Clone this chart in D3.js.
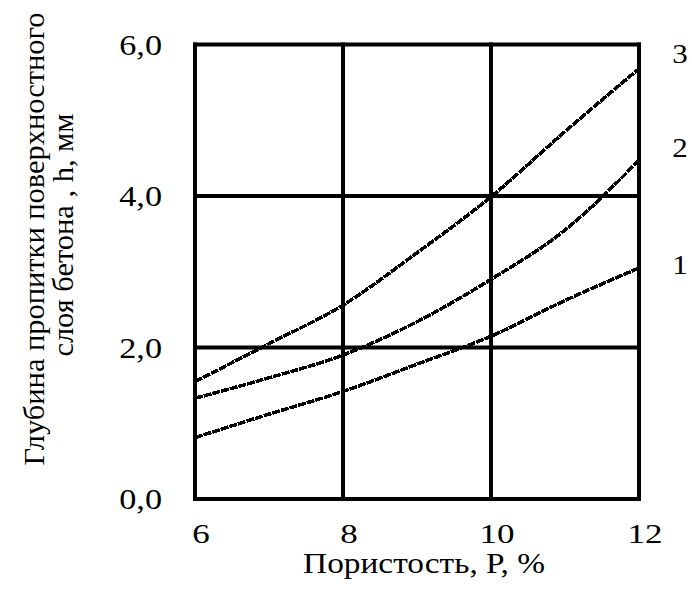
<!DOCTYPE html>
<html>
<head>
<meta charset="utf-8">
<script src="https://cdn.jsdelivr.net/npm/d3@7"></script>
<style>
  html, body { margin: 0; padding: 0; background: #fff; }
  svg text { font-family: "Liberation Serif", "DejaVu Serif", serif; fill: #000; }
</style>
</head>
<body>
<svg id="chart" width="692" height="597"></svg>
<script>
// Data
const porosity = [6, 7, 8, 9, 10, 11, 12];
const curve1 = [0.81, 1.12, 1.42, 1.78, 2.15, 2.62, 3.05];
const curve2 = [1.33, 1.60, 1.90, 2.34, 2.90, 3.55, 4.47];
const curve3 = [1.55, 2.05, 2.56, 3.25, 3.99, 4.85, 5.68];
const seriesNames = ["1", "2", "3"];
const xTicks = [6, 8, 10, 12];
const yTicks = [0, 2, 4, 6];
const xTitle = "Пористость, Р, %";
const yTitle1 = "Глубина пропитки поверхностного";
const yTitle2 = "слоя бетона , h, мм";

const svg = d3.select("#chart");
const margin = { left: 195, right: 53, top: 44.5, bottom: 98 };
const W = 692, H = 597;
const x = d3.scaleLinear().domain([6, 12]).range([margin.left, W - margin.right]);
const y = d3.scaleLinear().domain([0, 6]).range([H - margin.bottom, margin.top]);

const fmt = d => d.toFixed(1).replace(".", ",");

// grid lines
const g = svg.append("g");
g.selectAll("line.vx").data(xTicks).join("line")
  .attr("x1", d => x(d)).attr("x2", d => x(d))
  .attr("y1", y(0) + 2).attr("y2", y(6) - 2)
  .attr("stroke", "#000").attr("stroke-width", 4);
g.selectAll("line.hy").data(yTicks).join("line")
  .attr("x1", x(6) - 2).attr("x2", x(12) + 2)
  .attr("y1", d => y(d)).attr("y2", d => y(d))
  .attr("stroke", "#000").attr("stroke-width", 4);

// tick labels (stretched horizontally like the original)
svg.append("g").selectAll("text").data(yTicks).join("text")
  .attr("transform", d => `translate(${x(6) - 33}, ${y(d) + 10}) scale(1.18,1)`)
  .attr("text-anchor", "end").attr("font-size", 29)
  .text(fmt);
svg.append("g").selectAll("text").data(xTicks).join("text")
  .attr("transform", d => `translate(${x(d) + 6}, ${y(0) + 44}) scale(1.25,1)`)
  .attr("text-anchor", "middle").attr("font-size", 28)
  .text(d => d);

// curves
const seriesData = [curve1, curve2, curve3];
const line = d3.line()
  .x((d, i) => x(porosity[i]))
  .y(d => y(d))
  .curve(d3.curveMonotoneX);
svg.append("g").selectAll("path").data(seriesData).join("path")
  .attr("d", d => line(d))
  .attr("fill", "none").attr("stroke", "#000")
  .attr("stroke-width", 3.5).attr("stroke-dasharray", "8,1")
  .attr("shape-rendering", "crispEdges");

// series labels
const labelShift = [6, -3, -6];
svg.append("g").selectAll("text").data(seriesData).join("text")
  .attr("transform", (d, i) => `translate(${x(12) + 41}, ${y(d[d.length - 1]) + labelShift[i]}) scale(1.15,1)`)
  .attr("text-anchor", "middle").attr("font-size", 27)
  .text((d, i) => seriesNames[i]);

// axis titles
svg.append("text")
  .attr("transform", "translate(424, 573) scale(1.15,1)")
  .attr("text-anchor", "middle").attr("font-size", 29)
  .text(xTitle);
svg.append("text")
  .attr("transform", "translate(44, 239) rotate(-90) scale(1.05,1)")
  .attr("text-anchor", "middle").attr("font-size", 29)
  .text(yTitle1);
svg.append("text")
  .attr("transform", "translate(73, 235) rotate(-90) scale(1.05,1)")
  .attr("text-anchor", "middle").attr("font-size", 29)
  .text(yTitle2);
</script>
</body>
</html>
